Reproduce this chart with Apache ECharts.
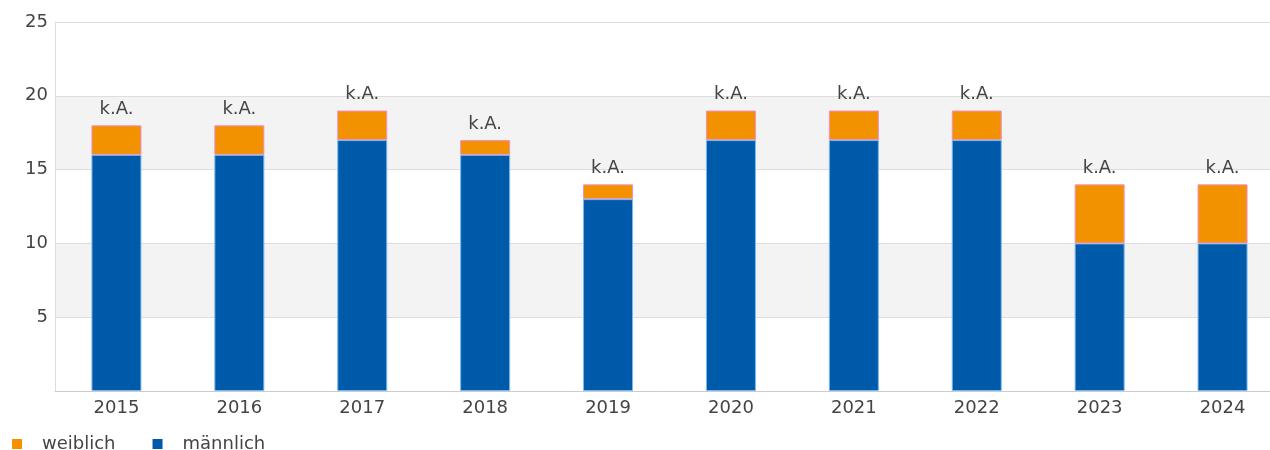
<!DOCTYPE html>
<html>
<head>
<meta charset="utf-8">
<script src="https://cdn.jsdelivr.net/npm/echarts@6/dist/echarts.min.js"></script>
<style>
  html, body { margin: 0; padding: 0; background: #fff; }
  #chart { width: 1270px; height: 450px; }
</style>
</head>
<body>
<div id="chart"></div>
<script>
// Jahre und Werte
const jahre = ['2015', '2016', '2017', '2018', '2019', '2020', '2021', '2022', '2023', '2024'];
const maennlich = [16, 16, 17, 16, 13, 17, 17, 17, 10, 10];
const weiblich = [2, 2, 2, 1, 1, 2, 2, 2, 4, 4];
const labelText = 'k.A.';

const chart = echarts.init(document.getElementById('chart'));
const font = 'DejaVu Sans';

chart.setOption({
  animation: false,
  textStyle: { fontFamily: font },
  // plot is a bit wider than the canvas in the original, right edge cut off
  grid: { left: 55, width: 1229, top: 22, bottom: 59, containLabel: false, outerBoundsMode: 'none' },
  legend: {
    left: 7,
    top: 430,
    itemWidth: 10,
    itemHeight: 10,
    itemGap: 37,
    icon: 'rect',
    data: ['weiblich', 'männlich'],
    itemStyle: { borderWidth: 0 },
    textStyle: { fontSize: 18, color: '#444', padding: [0, 0, 0, 15], fontFamily: font }
  },
  xAxis: {
    type: 'category',
    data: jahre,
    axisLine: { lineStyle: { color: '#ccc' } },
    axisTick: { show: false },
    axisLabel: { fontSize: 18, color: '#444', margin: 8, fontFamily: font }
  },
  yAxis: {
    type: 'value',
    min: 0,
    max: 25,
    interval: 5,
    axisLine: { show: true, lineStyle: { color: '#ddd' } },
    axisTick: { show: false },
    axisLabel: {
      fontSize: 18, color: '#444', margin: 7, fontFamily: font,
      formatter: function (v) { return v === 0 ? '' : v; }
    },
    splitLine: { lineStyle: { color: '#ddd' } },
    splitArea: { show: true, areaStyle: { color: ['#ffffff', '#f3f3f3'] } }
  },
  series: [
    {
      name: 'männlich',
      type: 'bar',
      stack: 'gesamt',
      barWidth: 50,
      data: maennlich,
      itemStyle: { color: '#005aaa', borderColor: '#7ab8f0', borderWidth: 1 }
    },
    {
      name: 'weiblich',
      type: 'bar',
      stack: 'gesamt',
      data: weiblich,
      itemStyle: { color: '#f39200', borderColor: '#f08fc8', borderWidth: 1 },
      label: {
        show: true,
        position: 'top',
        distance: 7,
        formatter: labelText,
        fontSize: 18,
        color: '#444',
        fontFamily: font
      }
    }
  ]
});
</script>
</body>
</html>
